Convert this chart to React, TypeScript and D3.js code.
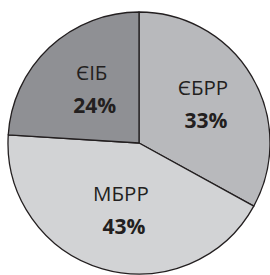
import React from "react";
import * as d3 from "d3";

const categories = ["ЄБРР", "МБРР", "ЄІБ"];
const values = [33, 43, 24];
const colors = ["#b8b9bc", "#d2d3d5", "#8f9094"];

const W = 270;
const H = 275;
const cx = 139;
const cy = 143;
const R = 131;
const labelR = 72;
const labelDx = 2;
const nameDy = -11;
const pctDy = 23;

export default function App() {
  const pie = d3.pie<number>().sort(null).value((d) => d)(values);
  const arc = d3.arc<d3.PieArcDatum<number>>().innerRadius(0).outerRadius(R);
  const labelArc = d3.arc<d3.PieArcDatum<number>>().innerRadius(labelR).outerRadius(labelR);
  return (
    <svg
      width={W}
      height={H}
      style={{ position: "absolute", left: 0, top: 0, background: "#fff" }}
    >
      <g transform={`translate(${cx},${cy})`}>
        {pie.map((p, i) => (
          <path
            key={i}
            d={arc(p) || ""}
            fill={colors[i]}
            stroke="#231f20"
            strokeWidth={1.3}
            strokeLinejoin="round"
          />
        ))}
        {pie.map((p, i) => {
          const [x, y] = labelArc.centroid(p);
          return (
            <g key={"l" + i} fontFamily="'Open Sans', sans-serif" fill="#231f20" textAnchor="middle">
              <text x={x + labelDx} y={y + nameDy} fontSize={20.5}>
                {categories[i]}
              </text>
              <text x={x + labelDx + 3} y={y + nameDy + 33} fontSize={21} fontWeight="bold">
                {values[i]}%
              </text>
            </g>
          );
        })}
      </g>
    </svg>
  );
}
